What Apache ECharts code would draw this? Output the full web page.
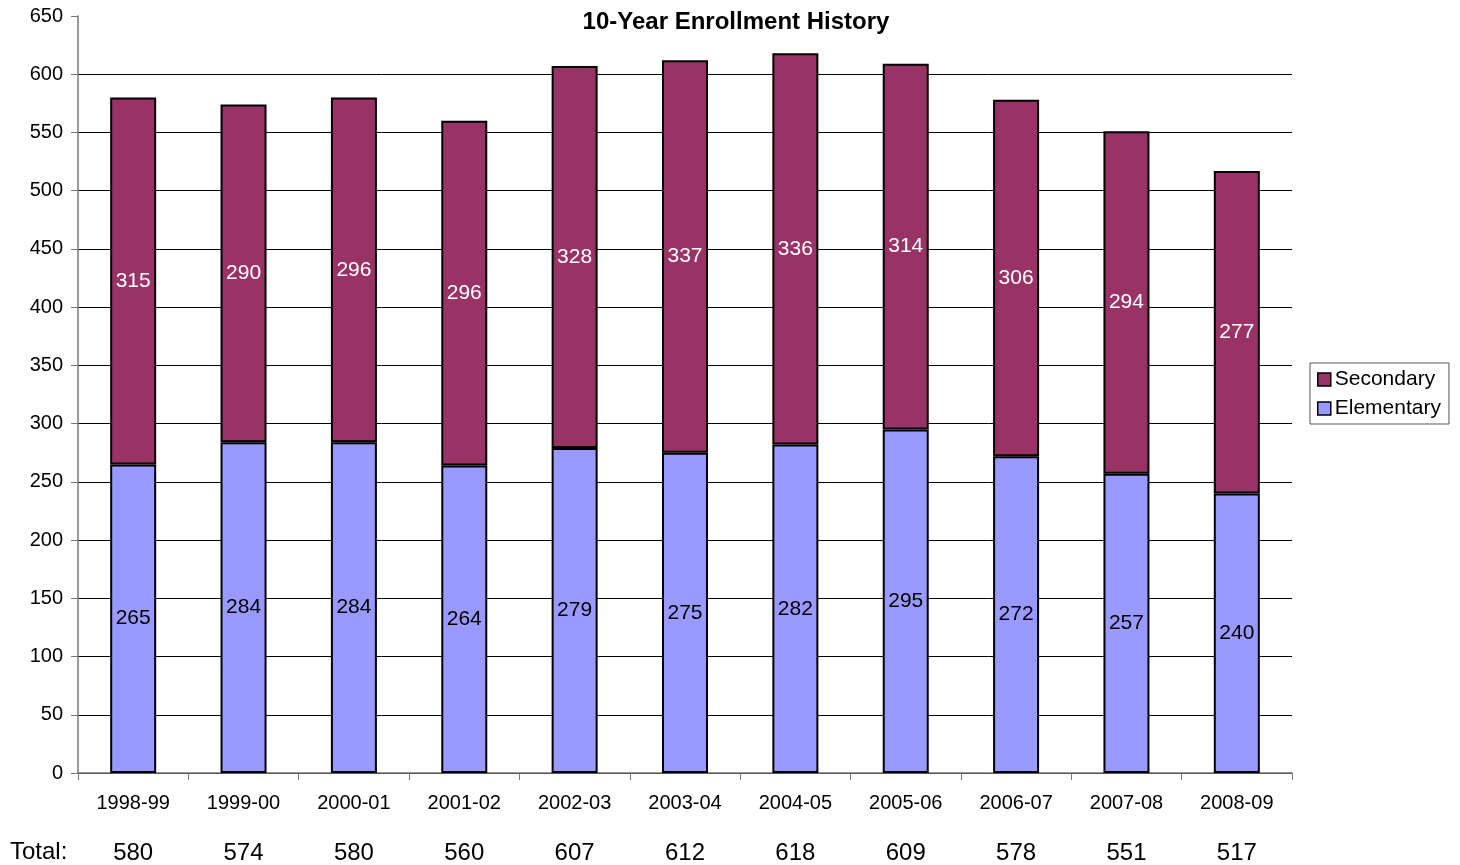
<!DOCTYPE html>
<html><head><meta charset="utf-8">
<script src="https://cdn.jsdelivr.net/npm/echarts@6/dist/echarts.min.js"></script>
<style>html,body{margin:0;padding:0;background:#fff}#c{width:1460px;height:865px}</style>
</head><body><div id="c"></div>
<script>
const categories = ['1998-99','1999-00','2000-01','2001-02','2002-03','2003-04','2004-05','2005-06','2006-07','2007-08','2008-09'];
const elementary = [265,284,284,264,279,275,282,295,272,257,240];
const secondary = [315,290,296,296,328,337,336,314,306,294,277];
const totals = [580,574,580,560,607,612,618,609,578,551,517];
const yTicks = {min:0, max:650, interval:50};

const F = 'Liberation Sans, Arial, Helvetica, sans-serif';
const chart = echarts.init(document.getElementById('c'));
const splitColors = [];
for (let i = 0; i < 13; i++) splitColors.push('#000');
splitColors.push('rgba(0,0,0,0)');

chart.setOption({
  animation:false,
  textStyle:{fontFamily:F},
  title:{text:'10-Year Enrollment History', left:731, top:5, textAlign:'center',
    textStyle:{fontFamily:F, fontSize:24, fontWeight:'bold', color:'#000'}},
  legend:{orient:'vertical', left:1310, top:363, padding:[6,8,5,7], itemGap:8,
    borderColor:'#555', borderWidth:1, icon:'rect', itemWidth:13, itemHeight:13,
    data:['Secondary','Elementary'],
    textStyle:{fontFamily:F, fontSize:21, color:'#000', padding:[0,0,0,-1]},
    itemStyle:{borderColor:'#000', borderWidth:1.5}},
  grid:{left:78, right:168, top:16, bottom:92},
  xAxis:[{type:'category', data:categories, position:'bottom',
      axisLine:{lineStyle:{color:'#777', width:1.5}},
      axisTick:{show:true, alignWithLabel:false, length:7, lineStyle:{color:'#777'}},
      axisLabel:{fontFamily:F, fontSize:20, color:'#000', margin:20}},
    {type:'category', data:totals, position:'bottom', offset:60,
      axisLine:{show:false}, axisTick:{show:false},
      axisLabel:{fontFamily:F, fontSize:24, color:'#000', margin:8}}],
  yAxis:{type:'value', min:yTicks.min, max:yTicks.max, interval:yTicks.interval,
    axisLine:{show:true, lineStyle:{color:'#777', width:1.5}},
    axisTick:{show:true, length:7, lineStyle:{color:'#777'}},
    axisLabel:{fontFamily:F, fontSize:20, color:'#000', margin:15},
    splitLine:{show:true, lineStyle:{color:splitColors, width:1}}},
  graphic:[{type:'text', left:10, top:840, style:{text:'Total:', font:'24px ' + F, fill:'#000'}}],
  series:[
    {name:'Elementary', type:'bar', stack:'a', data:elementary, barWidth:46,
      itemStyle:{color:'#9999FF', borderColor:'#000', borderWidth:2},
      label:{show:true, position:'inside', color:'#000', fontFamily:F, fontSize:21}},
    {name:'Secondary', type:'bar', stack:'a', data:secondary, barWidth:46,
      itemStyle:{color:'#993366', borderColor:'#000', borderWidth:2},
      label:{show:true, position:'inside', color:'#fff', fontFamily:F, fontSize:21}}
  ]
});
</script></body></html>
